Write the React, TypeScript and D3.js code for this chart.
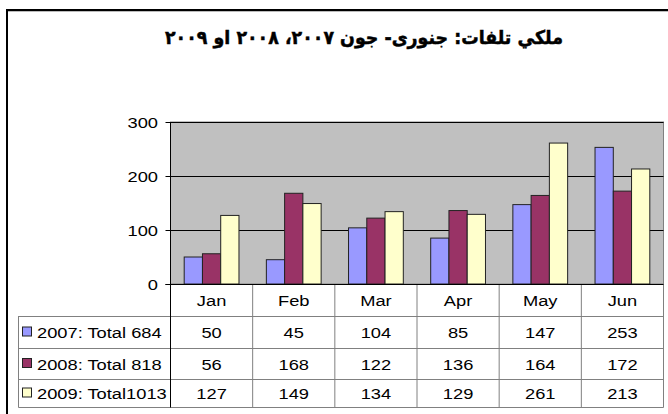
import React from 'react';
import * as d3 from 'd3';

const months = ['Jan', 'Feb', 'Mar', 'Apr', 'May', 'Jun'];
const seriesNames = ['2007: Total 684', '2008: Total 818', '2009: Total1013'];
const values2007 = [50, 45, 104, 85, 147, 253];
const values2008 = [56, 168, 122, 136, 164, 172];
const values2009 = [127, 149, 134, 129, 261, 213];
const yTicks = [0, 100, 200, 300];
const title = 'ملكي تلفات: جنورى- جون ۲۰۰۷، ۲۰۰۸ او ۲۰۰۹';

const colors = ['#9999FF', '#993366', '#FFFFCC'];
const W = 668;
const H = 414;
const font = "'Liberation Sans', Arial, 'DejaVu Sans', sans-serif";

// text in the original is stretched sideways a bit
const SX = 1.18;
function T({ x, y, children, anchor = 'middle', size = 15.5 }: any) {
  return (
    <text
      transform={`translate(${x},${y}) scale(${SX},1)`}
      textAnchor={anchor}
      fontSize={size}
      fontFamily={font}
      fill="#000"
    >
      {children}
    </text>
  );
}

export default function App() {
  const series = [values2007, values2008, values2009];
  const left = 170.5;
  const right = 663.5;
  const top = 122;
  const zero = 284;
  const rows = [284, 316, 348, 379, 407];
  const legendLeft = 18.5;

  const x = d3.scaleBand<string>().domain(months).range([left, right]).padding(0);
  const xs = d3
    .scaleBand<number>()
    .domain([0, 1, 2])
    .range([0, x.bandwidth()])
    .paddingInner(0)
    .paddingOuter(0.75);
  const y = d3.scaleLinear().domain([0, 300]).range([zero, top]);

  return (
    <div style={{ position: 'absolute', left: 0, top: 0 }}>
      <svg width={W} height={H} style={{ display: 'block' }}>
        <rect width={W} height={H} fill="#fff" />
        {/* outer frame */}
        <line x1={6} x2={W} y1={10} y2={10} stroke="#000" strokeWidth={2} />
        <line x1={6} x2={W} y1={11.5} y2={11.5} stroke="#bbb" strokeWidth={1} />
        <line x1={7} x2={7} y1={9} y2={H} stroke="#000" strokeWidth={2} />

        <text
          x={364}
          y={44}
          textAnchor="middle"
          fontSize={19}
          fontWeight="bold"
          fontFamily="'DejaVu Sans', sans-serif"
          direction="rtl"
          textLength={398}
          lengthAdjust="spacingAndGlyphs"
          stroke="#000"
          strokeWidth={0.5}
        >
          {title}
        </text>

        {/* plot area */}
        <rect x={left} y={top} width={right - left} height={zero - top} fill="#C0C0C0" stroke="#808080" />
        {yTicks.map((t) => (
          <g key={t}>
            <line x1={left - 5} x2={right} y1={Math.round(y(t)) + 0.5} y2={Math.round(y(t)) + 0.5} stroke="#000" />
            <T x={158} y={y(t) + 5.5} anchor="end">{t}</T>
          </g>
        ))}

        {months.map((m, i) => (
          <g key={m} transform={`translate(${x(m)},0)`}>
            {series.map((vals, s) => (
              <rect
                key={s}
                x={xs(s)}
                y={y(vals[i])}
                width={xs.bandwidth()}
                height={zero - y(vals[i])}
                fill={colors[s]}
                stroke="#222"
                strokeWidth={1}
              />
            ))}
          </g>
        ))}
        <line x1={left} x2={left} y1={top} y2={zero} stroke="#000" />

        {/* data table */}
        {rows.slice(1).map((r) => (
          <line key={r} x1={legendLeft} x2={right} y1={r + 0.5} y2={r + 0.5} stroke="#808080" />
        ))}
        <line x1={legendLeft} x2={legendLeft} y1={rows[1]} y2={rows[4] + 0.5} stroke="#808080" />
        {months.map((m) => (
          <line key={m} x1={x(m)} x2={x(m)} y1={zero} y2={rows[4] + 0.5} stroke="#808080" />
        ))}
        <line x1={right} x2={right} y1={zero} y2={rows[4] + 0.5} stroke="#808080" />
        <line x1={left} x2={left} y1={zero} y2={rows[4] + 0.5} stroke="#000" />
        <line x1={left - 5} x2={right} y1={zero + 0.5} y2={zero + 0.5} stroke="#000" />

        {months.map((m) => (
          <T key={m} x={x(m)! + x.bandwidth() / 2} y={rows[0] + 22}>{m}</T>
        ))}
        {series.map((vals, s) => {
          const cy = (rows[s + 1] + rows[s + 2]) / 2;
          return (
            <g key={s}>
              <rect x={22.5} y={cy - 5} width={9} height={9} fill={colors[s]} stroke="#222" />
              <T x={37} y={cy + 6} anchor="start">{seriesNames[s]}</T>
              {vals.map((v, i) => (
                <T key={i} x={x(months[i])! + x.bandwidth() / 2} y={cy + 6}>{v}</T>
              ))}
            </g>
          );
        })}
      </svg>
    </div>
  );
}
